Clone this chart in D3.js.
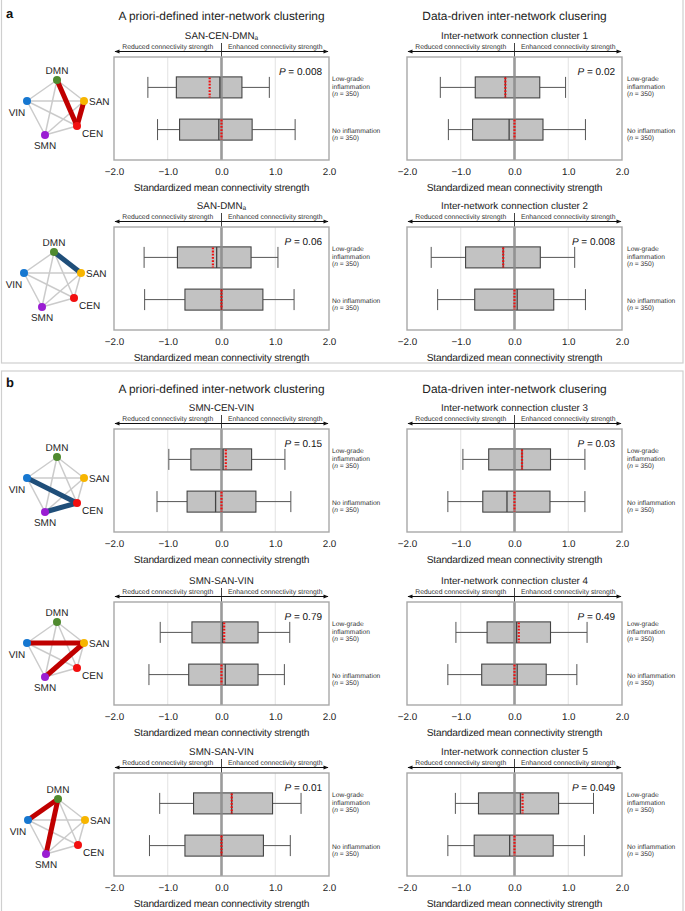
<!DOCTYPE html>
<html><head><meta charset="utf-8">
<script src="https://cdn.jsdelivr.net/npm/d3@7"></script>
<style>
html,body{margin:0;padding:0;background:#fff;}
svg{display:block;font-family:"Liberation Sans",Arial,Helvetica,sans-serif;text-rendering:geometricPrecision;-webkit-font-smoothing:antialiased;}
</style></head>
<body>
<svg id="chart" width="685" height="911"></svg>
<script>
// ---------------- DATA ----------------
const xTicks = [-2, -1, 0, 1, 2];
const groups = ["low", "none"];
const groupLabelsLow = ["Low-grade", "inflammation", "(n = 350)"];
const groupLabelsNone = ["No inflammation", "(n = 350)"];
const nodeNames = ["DMN", "VIN", "SAN", "CEN", "SMN"];
const nodeColors = ["#4f8a2f", "#1677d0", "#f7b500", "#f20f0f", "#9a1dd2"];

// stats: [min, q1, median, q3, max, mean]
const sanCenDmnLow = [-1.37, -0.84, -0.03, 0.38, 0.89, -0.22];
const sanCenDmnNone = [-1.19, -0.78, -0.05, 0.57, 1.37, 0.0];
const cluster1Low = [-1.38, -0.73, -0.17, 0.47, 0.95, -0.17];
const cluster1None = [-1.23, -0.78, -0.10, 0.53, 1.32, 0.0];
const sanDmnLow = [-1.44, -0.82, -0.09, 0.55, 1.05, -0.16];
const sanDmnNone = [-1.43, -0.68, 0.0, 0.77, 1.35, 0.0];
const cluster2Low = [-1.55, -0.91, -0.21, 0.48, 1.12, -0.21];
const cluster2None = [-1.43, -0.74, 0.05, 0.73, 1.32, 0.0];
const smnCenVinLow = [-0.98, -0.57, 0.03, 0.56, 1.18, 0.08];
const smnCenVinNone = [-1.20, -0.64, -0.11, 0.64, 1.29, 0.0];
const cluster3Low = [-0.96, -0.48, 0.14, 0.67, 1.31, 0.14];
const cluster3None = [-1.24, -0.59, -0.14, 0.66, 1.31, 0.0];
const smnSanVinALow = [-1.14, -0.55, 0.02, 0.68, 1.27, 0.05];
const smnSanVinANone = [-1.35, -0.61, 0.07, 0.68, 1.17, 0.0];
const cluster4Low = [-1.09, -0.51, 0.04, 0.67, 1.35, 0.08];
const cluster4None = [-1.24, -0.61, 0.05, 0.59, 1.16, 0.0];
const smnSanVinBLow = [-1.15, -0.52, 0.19, 0.95, 1.48, 0.19];
const smnSanVinBNone = [-1.34, -0.68, 0.0, 0.78, 1.28, 0.0];
const cluster5Low = [-1.10, -0.67, 0.11, 0.82, 1.47, 0.15];
const cluster5None = [-1.24, -0.75, -0.09, 0.72, 1.30, 0.0];

const mainTitles = ["A priori-defined inter-network clustering", "Data-driven inter-network clusering"];
const subtitles = ["SAN-CEN-DMN", "Inter-network connection cluster 1", "SAN-DMN", "Inter-network connection cluster 2",
  "SMN-CEN-VIN", "Inter-network connection cluster 3", "SMN-SAN-VIN", "Inter-network connection cluster 4",
  "SMN-SAN-VIN", "Inter-network connection cluster 5"];
const subscripts = ["a", "", "a", "", "", "", "", "", "", ""];
const pValues = ["0.008", "0.02", "0.06", "0.008", "0.15", "0.03", "0.79", "0.49", "0.01", "0.049"];
const lowStats = [sanCenDmnLow, cluster1Low, sanDmnLow, cluster2Low, smnCenVinLow, cluster3Low, smnSanVinALow, cluster4Low, smnSanVinBLow, cluster5Low];
const noneStats = [sanCenDmnNone, cluster1None, sanDmnNone, cluster2None, smnCenVinNone, cluster3None, smnSanVinANone, cluster4None, smnSanVinBNone, cluster5None];

// highlighted network edges per left-column panel
const highlightEdges = [
  [["DMN", "CEN"], ["SAN", "CEN"]],
  [["DMN", "SAN"]],
  [["VIN", "CEN"], ["SMN", "CEN"]],
  [["VIN", "SAN"], ["SMN", "SAN"]],
  [["DMN", "VIN"], ["DMN", "SMN"]]
];
const highlightColors = ["#c00000", "#1f4e79", "#1f4e79", "#c00000", "#c00000"];

// ---------------- LAYOUT ----------------
const svg = d3.select("#chart");
const colX = [[114, 329], [407, 622]];
const rowTops = [57, 227, 429, 602, 773];
const plotH = 103;
const groupLabelX = [332, 627];
const netOrigin = [[57, 80], [54, 252], [57, 457], [57, 622], [58, 799]];
const nodeOffsets = { DMN: [0, 0], VIN: [-30, 21], SAN: [27, 21], CEN: [20, 46], SMN: [-12, 55] };
const txt = "#222";

// panel frames
svg.append("rect").attr("x", 1.5).attr("y", -1).attr("width", 681.5).attr("height", 364)
  .attr("fill", "none").attr("stroke", "#cfcfcf").attr("stroke-width", 1.2);
svg.append("rect").attr("x", 1.5).attr("y", 371).attr("width", 681.5).attr("height", 545)
  .attr("fill", "none").attr("stroke", "#cfcfcf").attr("stroke-width", 1.2);

svg.append("text").attr("x", 6).attr("y", 18).attr("font-size", 13).attr("font-weight", "bold").attr("fill", "#111").text("a");
svg.append("text").attr("x", 6).attr("y", 387).attr("font-size", 13).attr("font-weight", "bold").attr("fill", "#111").text("b");

[20, 393].forEach(y => {
  [0, 1].forEach(c => {
    svg.append("text").attr("x", (colX[c][0] + colX[c][1]) / 2).attr("y", y)
      .attr("text-anchor", "middle").attr("font-size", 11.9).attr("fill", txt)
      .text(mainTitles[c]);
  });
});

// arrow marker
const defs = svg.append("defs");
defs.append("marker").attr("id", "ah").attr("viewBox", "0 0 10 10").attr("refX", 9).attr("refY", 5)
  .attr("markerWidth", 7).attr("markerHeight", 5).attr("orient", "auto-start-reverse")
  .append("path").attr("d", "M0,1 L10,5 L0,9 z").attr("fill", "#111");

function nLabel(sel, t) {
  if (t.startsWith("(n")) {
    sel.append("tspan").text("(");
    sel.append("tspan").attr("font-style", "italic").text("n");
    sel.append("tspan").text(t.slice(2));
  } else sel.text(t);
}

function drawPanel(i) {
  const row = Math.floor(i / 2), col = i % 2;
  const top = rowTops[row], bottom = top + plotH;
  const [x0, x1] = colX[col];
  const x = d3.scaleLinear().domain([-2, 2]).range([x0, x1]);
  const y = d3.scalePoint().domain(groups).range([top, bottom]).padding(0.72);
  const g = svg.append("g");
  const bh = 21;

  // subtitle
  const st = g.append("text").attr("x", (x0 + x1) / 2).attr("y", top - 18.5)
    .attr("text-anchor", "middle").attr("font-size", 9.8).attr("fill", txt).text(subtitles[i]);
  if (subscripts[i]) st.append("tspan").attr("font-size", 6.5).attr("dy", 1.2).text(subscripts[i]);

  // arrows
  const ay = top - 5.5;
  g.append("line").attr("x1", x(0)).attr("x2", x(-2) + 1).attr("y1", ay).attr("y2", ay)
    .attr("stroke", "#111").attr("stroke-width", 1).attr("marker-end", "url(#ah)");
  g.append("line").attr("x1", x(0)).attr("x2", x(2) - 1).attr("y1", ay).attr("y2", ay)
    .attr("stroke", "#111").attr("stroke-width", 1).attr("marker-end", "url(#ah)");
  g.append("line").attr("x1", x(0)).attr("x2", x(0)).attr("y1", top - 14).attr("y2", top)
    .attr("stroke", "#111").attr("stroke-width", 0.8);
  g.append("text").attr("x", (x(-2) + x(0)) / 2).attr("y", top - 8).attr("text-anchor", "middle")
    .attr("font-size", 6.8).attr("fill", "#333").text("Reduced connectivity strength");
  g.append("text").attr("x", (x(0) + x(2)) / 2).attr("y", top - 8).attr("text-anchor", "middle")
    .attr("font-size", 6.8).attr("fill", "#333").text("Enhanced connectivity strength");

  // grid
  [-1, 1].forEach(v => g.append("line").attr("x1", x(v)).attr("x2", x(v)).attr("y1", top).attr("y2", bottom)
    .attr("stroke", "#e2e2e2").attr("stroke-width", 1));

  // boxes
  const statsFor = { low: lowStats[i], none: noneStats[i] };
  groups.forEach(gr => {
    const [mn, q1, md, q3, mx, mean] = statsFor[gr];
    const cy = y(gr);
    g.append("line").attr("x1", x(mn)).attr("x2", x(q1)).attr("y1", cy).attr("y2", cy).attr("stroke", "#555").attr("stroke-width", 1);
    g.append("line").attr("x1", x(q3)).attr("x2", x(mx)).attr("y1", cy).attr("y2", cy).attr("stroke", "#555").attr("stroke-width", 1);
    [mn, mx].forEach(v => g.append("line").attr("x1", x(v)).attr("x2", x(v)).attr("y1", cy - bh / 2).attr("y2", cy + bh / 2)
      .attr("stroke", "#555").attr("stroke-width", 1));
    g.append("rect").attr("x", x(q1)).attr("y", cy - bh / 2).attr("width", x(q3) - x(q1)).attr("height", bh)
      .attr("fill", "#c2c2c2").attr("stroke", "#444").attr("stroke-width", 1.1);
  });

  // zero line
  g.append("line").attr("x1", x(0)).attr("x2", x(0)).attr("y1", top).attr("y2", bottom)
    .attr("stroke", "#8a8a8a").attr("stroke-width", 2.6).attr("opacity", 0.85);

  groups.forEach(gr => {
    const s = statsFor[gr];
    const cy = y(gr);
    g.append("line").attr("x1", x(s[2])).attr("x2", x(s[2])).attr("y1", cy - bh / 2).attr("y2", cy + bh / 2)
      .attr("stroke", "#444").attr("stroke-width", 1.3);
    g.append("line").attr("x1", x(s[5])).attr("x2", x(s[5])).attr("y1", cy - bh / 2 + 0.5).attr("y2", cy + bh / 2 - 0.5)
      .attr("stroke", "#f01010").attr("stroke-width", 2.2).attr("stroke-dasharray", "1.8,1.4");
  });

  // frame
  g.append("rect").attr("x", x0).attr("y", top).attr("width", x1 - x0).attr("height", plotH)
    .attr("fill", "none").attr("stroke", "#a8a8a8").attr("stroke-width", 1.4);

  // axis
  const axis = d3.axisBottom(x).tickValues(xTicks).tickSize(0).tickPadding(8.5).tickFormat(d3.format(".1f"));
  const ag = g.append("g").attr("transform", `translate(0,${bottom})`).call(axis);
  ag.select(".domain").remove();
  ag.selectAll("text").attr("font-size", 9.8).attr("fill", txt).attr("font-family", "Liberation Sans, Arial, sans-serif");
  g.append("text").attr("x", (x0 + x1) / 2).attr("y", bottom + 30.5).attr("text-anchor", "middle")
    .attr("font-size", 10.2).attr("letter-spacing", -0.22).attr("fill", txt).text("Standardized mean connectivity strength");

  // P value
  const pt = g.append("text").attr("x", x1 - 7).attr("y", top + 17.5).attr("text-anchor", "end")
    .attr("font-size", 10).attr("fill", "#111");
  pt.append("tspan").attr("font-style", "italic").text("P");
  pt.append("tspan").text(" = " + pValues[i]);

  // group labels
  const lx = groupLabelX[col];
  const cyL = y("low"), cyN = y("none");
  groupLabelsLow.forEach((t, k) => {
    nLabel(g.append("text").attr("x", lx).attr("y", cyL - 6.5 + k * 7.8).attr("font-size", 6.7).attr("fill", "#333"), t);
  });
  groupLabelsNone.forEach((t, k) => {
    nLabel(g.append("text").attr("x", lx).attr("y", cyN + 3 + k * 7.8).attr("font-size", 6.7).attr("fill", "#333"), t);
  });
}

for (let i = 0; i < 10; i++) drawPanel(i);

// networks
function drawNetwork(k) {
  const [ox, oy] = netOrigin[k];
  const pos = {};
  nodeNames.forEach(n => { pos[n] = [ox + nodeOffsets[n][0], oy + nodeOffsets[n][1]]; });
  const g = svg.append("g");
  const edges = [];
  for (let a = 0; a < nodeNames.length; a++)
    for (let b = a + 1; b < nodeNames.length; b++) edges.push([nodeNames[a], nodeNames[b]]);
  g.selectAll(".e").data(edges).enter().append("line")
    .attr("x1", d => pos[d[0]][0]).attr("y1", d => pos[d[0]][1])
    .attr("x2", d => pos[d[1]][0]).attr("y2", d => pos[d[1]][1])
    .attr("stroke", "#cbcbcb").attr("stroke-width", 1.5);
  g.selectAll(".h").data(highlightEdges[k]).enter().append("line")
    .attr("x1", d => pos[d[0]][0]).attr("y1", d => pos[d[0]][1])
    .attr("x2", d => pos[d[1]][0]).attr("y2", d => pos[d[1]][1])
    .attr("stroke", highlightColors[k]).attr("stroke-width", 5).attr("stroke-linecap", "butt");
  g.selectAll("circle").data(nodeNames).enter().append("circle")
    .attr("cx", d => pos[d][0]).attr("cy", d => pos[d][1]).attr("r", 4)
    .attr("fill", (d, j) => nodeColors[j]);
  const lab = { DMN: [0, -6.5, "middle"], VIN: [-10, 15, "middle"], SAN: [5, 4, "start"], CEN: [5, 11, "start"], SMN: [0, 14, "middle"] };
  nodeNames.forEach(n => {
    g.append("text").attr("x", pos[n][0] + lab[n][0]).attr("y", pos[n][1] + lab[n][1])
      .attr("text-anchor", lab[n][2]).attr("font-size", 10).attr("fill", txt).text(n);
  });
}
for (let k = 0; k < 5; k++) drawNetwork(k);
</script>
</body></html>
